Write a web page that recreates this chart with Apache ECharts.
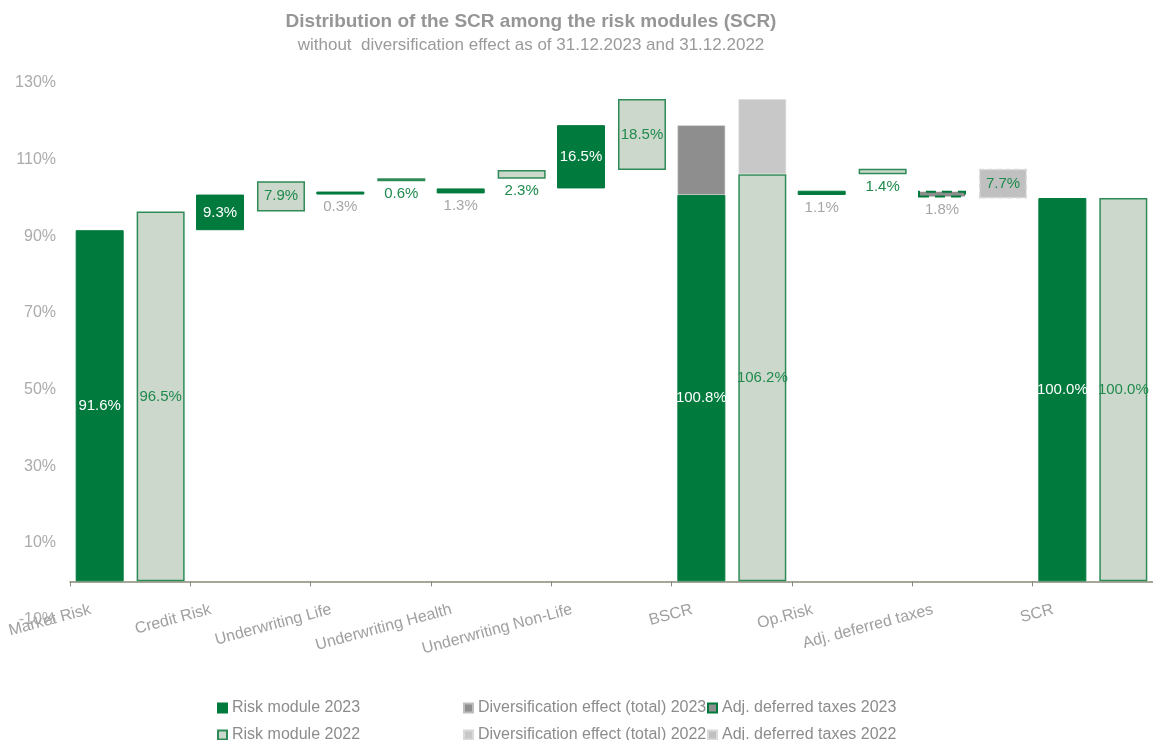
<!DOCTYPE html>
<html>
<head>
<meta charset="utf-8">
<script src="https://cdn.jsdelivr.net/npm/echarts@6/dist/echarts.min.js"></script>
<style>
html,body{margin:0;padding:0;background:#fff;}
#chart{width:1153px;height:740px;}
</style>
</head>
<body>
<div id="chart"></div>
<script>
const categories = ['Market Risk', 'Credit Risk', 'Underwriting Life', 'Underwriting Health', 'Underwriting Non-Life', 'BSCR', 'Op.Risk', 'Adj. deferred taxes', 'SCR'];
const yTicks = [-10, 10, 30, 50, 70, 90, 110, 130];

// 2023 waterfall
const base2023 = [0, 91.6, 100.9, 101.2, 102.5, 0, 100.8, 100.1, 0];
const module2023 = [91.6, 9.3, 0.3, 1.3, 16.5, 100.8, 1.1, null, 100.0];
const divers2023 = [null, null, null, null, null, 18.2, null, null, null];
const adjTax2023 = [null, null, null, null, null, null, null, 1.8, null];

// 2022 waterfall
const base2022 = [0, 96.5, 104.4, 105.0, 107.3, 0, 106.2, 99.9, 0];
const module2022 = [96.5, 7.9, 0.6, 2.3, 18.5, 106.2, 1.4, null, 100.0];
const divers2022 = [null, null, null, null, null, 19.6, null, null, null];
const adjTax2022 = [null, null, null, null, null, null, null, 7.7, null];

const legendNames = [
  'Risk module 2023', 'Diversification effect (total) 2023', 'Adj. deferred taxes 2023',
  'Risk module 2022', 'Diversification effect (total) 2022', 'Adj. deferred taxes 2022'
];

const DARK = '#007A3D';
const LIGHT = '#CDD8CC';
const EDGE = '#2E8B57';
const LGREEN = '#1E8A4C';
const GREYTXT = '#A6A6A6';
const FONT = '"Liberation Sans", Arial, sans-serif';

const smallIdx = [2, 3, 6]; // labels placed below thin bars
const pct = v => (v == null ? '' : Number(v).toFixed(1) + '%');

function moduleData(arr, insideColor, belowColor) {
  return arr.map((v, i) => {
    if (v == null) return null;
    const small = smallIdx.indexOf(i) >= 0;
    const item = { value: v, label: { position: small ? 'bottom' : 'inside', color: small ? belowColor : insideColor } };
    if (arr === module2023 && i === 5) item.label.offset = [0, 10];
    return item;
  });
}

const barW = 48;
const labelBase = { show: true, fontSize: 15, fontFamily: FONT, distance: 5, formatter: p => pct(p.value) };

const legendCols = [217, 463, 707];
const legendRows = [700, 727];
const legends = legendNames.map((name, i) => ({
  orient: 'horizontal',
  left: legendCols[i % 3],
  top: legendRows[Math.floor(i / 3)],
  padding: 0,
  itemWidth: 9, itemHeight: 9, icon: 'rect',
  textStyle: { color: '#8C8C8C', fontSize: 16, fontFamily: FONT },
  data: [name]
}));

const chart = echarts.init(document.getElementById('chart'), null, { renderer: 'canvas' });

const option = {
  backgroundColor: '#ffffff',
  animation: false,
  textStyle: { fontFamily: FONT },
  graphic: [
    { type: 'text', x: 531, y: 22, style: { text: 'Distribution of the SCR among the risk modules (SCR)', fill: '#969696', font: 'bold 19px ' + FONT, textAlign: 'center', textVerticalAlign: 'middle' } },
    { type: 'text', x: 531, y: 45, style: { text: 'without  diversification effect as of 31.12.2023 and 31.12.2022', fill: '#9A9A9A', font: '17px ' + FONT, textAlign: 'center', textVerticalAlign: 'middle' } }
  ],
  legend: legends,
  grid: { left: 70, top: 83, width: 1091, height: 536.7, containLabel: false },
  xAxis: {
    type: 'category',
    data: categories,
    boundaryGap: true,
    axisLine: { onZero: true, lineStyle: { color: '#8A8A78', width: 1.5 } },
    axisTick: { show: true, length: 5, lineStyle: { color: '#8A8A78' } },
    axisLabel: { interval: 0, rotate: 15, margin: -21, padding: [0, 41, 0, 0], color: '#A0A0A0', fontSize: 16, fontFamily: FONT }
  },
  yAxis: {
    type: 'value',
    min: yTicks[0],
    max: yTicks[yTicks.length - 1],
    interval: yTicks[1] - yTicks[0],
    axisLine: { show: false },
    axisTick: { show: false },
    splitLine: { show: false },
    axisLabel: { color: '#ABABAB', fontSize: 16, fontFamily: FONT, margin: 14, formatter: v => v + '%' }
  },
  series: [
    { name: 'base2023', type: 'bar', stack: 'y23', barWidth: barW, barGap: '27%', data: base2023,
      itemStyle: { color: 'transparent' }, silent: true },
    { name: 'Risk module 2023', type: 'bar', stack: 'y23', barWidth: barW, barMinHeight: 3,
      data: moduleData(module2023, '#ffffff', GREYTXT),
      itemStyle: { color: DARK, borderColor: DARK, borderWidth: 1 },
      label: Object.assign({}, labelBase) },
    { name: 'Diversification effect (total) 2023', type: 'bar', stack: 'y23', barWidth: barW, data: divers2023,
      itemStyle: { color: '#8E8E8E', borderColor: '#BDBDBD', borderWidth: 1, borderType: 'dotted' } },
    { name: 'Adj. deferred taxes 2023', type: 'bar', stack: 'y23', barWidth: barW, data: adjTax2023,
      itemStyle: { color: '#8E8E8E', borderColor: DARK, borderWidth: 2, borderType: [10, 6] },
      label: Object.assign({}, labelBase, { position: 'bottom', color: GREYTXT }) },

    { name: 'base2022', type: 'bar', stack: 'y22', barWidth: barW, data: base2022,
      itemStyle: { color: 'transparent' }, silent: true },
    { name: 'Risk module 2022', type: 'bar', stack: 'y22', barWidth: barW, barMinHeight: 3,
      data: moduleData(module2022, LGREEN, LGREEN),
      itemStyle: { color: LIGHT, borderColor: EDGE, borderWidth: 1.5 },
      label: Object.assign({}, labelBase) },
    { name: 'Diversification effect (total) 2022', type: 'bar', stack: 'y22', barWidth: barW, data: divers2022,
      itemStyle: { color: '#C8C8C8', borderColor: '#D9D9D9', borderWidth: 1, borderType: 'dotted' } },
    { name: 'Adj. deferred taxes 2022', type: 'bar', stack: 'y22', barWidth: barW, data: adjTax2022,
      itemStyle: { color: '#C0C0C0', borderColor: '#DADADA', borderWidth: 1.5, borderType: 'dashed' },
      label: Object.assign({}, labelBase, { position: 'inside', color: LGREEN }) }
  ]
};

chart.setOption(option);
</script>
</body>
</html>
